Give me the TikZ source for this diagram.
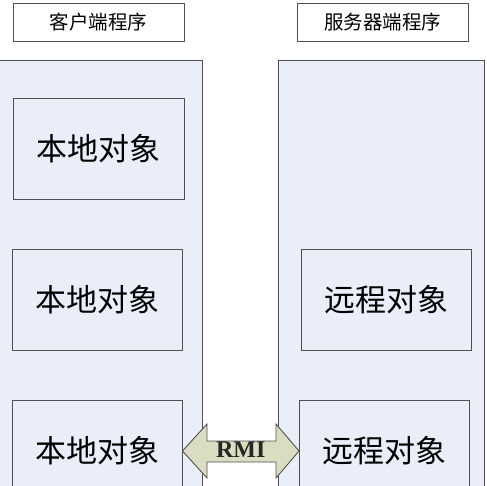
\documentclass[tikz,border=0pt]{standalone}
\usepackage{fontspec}
\usetikzlibrary{calc}
\newfontfamily\cjk{Noto Sans CJK SC}
\setmainfont{Liberation Serif}
\definecolor{panelfill}{HTML}{E9EEF8}
\definecolor{edge}{HTML}{505050}
\definecolor{arrowfill}{HTML}{DADDC2}
\begin{document}
\begin{tikzpicture}[x=1pt,y=-1pt,
  titlebox/.style={draw=edge,line width=0.9pt,fill=white,minimum width=171pt,minimum height=38pt,inner sep=0pt,font=\cjk\fontsize{19.5}{19.5}\selectfont},
  objbox/.style={draw=edge,line width=0.9pt,fill=panelfill,minimum width=170pt,minimum height=101pt,inner sep=0pt,font=\cjk\fontsize{31}{31}\selectfont},
  panel/.style={draw=edge,line width=0.9pt,fill=panelfill}]
\useasboundingbox (0,0) rectangle (487,485);
\begin{scope}
\clip (0,0) rectangle (487,485);
% panels
\draw[panel] (-5,60) rectangle (202,500);
\draw[panel] (278,60) rectangle (484,500);
% titles
\node[titlebox] (tc) at (98.5,22) {客户端程序};
\node[titlebox] (ts) at (382.5,22) {服务器端程序};
% client objects
\node[objbox,minimum width=171pt] (c1) at (98.5,148.5) {本地对象};
\node[objbox] (c2) at (97,299.5) {本地对象};
\node[objbox] (c3) at (97,451) {本地对象};
% server objects
\node[objbox] (s2) at (386,299.5) {远程对象};
\node[objbox] (s3) at (384.5,451) {远程对象};
% RMI double arrow
\draw[draw=edge,line width=0.9pt,fill=arrowfill,line join=miter]
  (c3.east) -- (207,424) -- (207,441) -- (276,441) -- (276,424) -- (s3.west)
  -- (276,478) -- (276,462) -- (207,462) -- (207,478) -- cycle;
\node[font=\bfseries\fontsize{24}{24}\selectfont,inner sep=0pt,text=black!85] (rmi) at ($(c3.east)!0.5!(s3.west)+(0,-1)$) {RMI};
\end{scope}
\end{tikzpicture}
\end{document}
